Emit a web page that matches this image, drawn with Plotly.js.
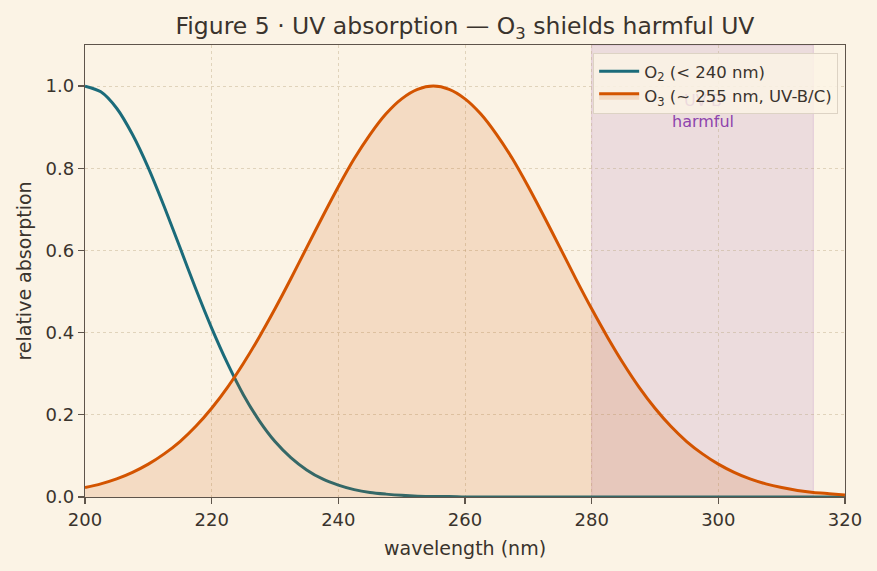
<!DOCTYPE html>
<html>
<head>
<meta charset="utf-8">
<script src="https://cdn.plot.ly/plotly-3.0.1.min.js"></script>
<style>
  html, body { margin: 0; padding: 0; background: #fbf3e5; }
  #chart { width: 877px; height: 571px; }
</style>
</head>
<body>
<div id="chart"></div>
<script>
// Wavelength grid (nm), 2.5 nm steps
const wavelength = [200, 202.5, 205, 207.5, 210, 212.5, 215, 217.5, 220, 222.5, 225, 227.5,
                    230, 232.5, 235, 237.5, 240, 242.5, 245, 247.5, 250, 252.5, 255, 257.5,
                    260, 262.5, 265, 267.5, 270, 272.5, 275, 277.5, 280, 282.5, 285, 287.5,
                    290, 292.5, 295, 297.5, 300, 302.5, 305, 307.5, 310, 312.5, 315, 317.5, 320];

// Relative absorption of O2 (strong below 240 nm)
const o2Absorption = [1.000, 0.986, 0.946, 0.882, 0.801, 0.707, 0.607, 0.506, 0.411, 0.325,
                      0.249, 0.186, 0.135, 0.096, 0.066, 0.044, 0.029, 0.018, 0.011, 0.007,
                      0.004, 0.002, 0.001, 0.001, 0.000, 0.000, 0.000, 0.000, 0.000, 0.000,
                      0.000, 0.000, 0.000, 0.000, 0.000, 0.000, 0.000, 0.000, 0.000, 0.000,
                      0.000, 0.000, 0.000, 0.000, 0.000, 0.000, 0.000, 0.000, 0.000];

// Relative absorption of O3 (Hartley band, peak near 255 nm)
const o3Absorption = [0.023, 0.032, 0.044, 0.060, 0.080, 0.105, 0.135, 0.172, 0.216, 0.267,
                      0.325, 0.389, 0.458, 0.531, 0.607, 0.682, 0.755, 0.823, 0.882, 0.932,
                      0.969, 0.992, 1.000, 0.992, 0.969, 0.932, 0.882, 0.823, 0.755, 0.682,
                      0.607, 0.531, 0.458, 0.389, 0.325, 0.267, 0.216, 0.172, 0.135, 0.105,
                      0.080, 0.060, 0.044, 0.032, 0.023, 0.016, 0.011, 0.008, 0.005];

// Harmful UV band (nm)
const harmfulBand = [280, 315];

const textColor = '#3a332d';

const traces = [
  {
    x: wavelength, y: o2Absorption, type: 'scatter', mode: 'lines',
    name: 'O<sub>2</sub> (&lt; 240 nm)',
    line: { color: '#1b6b7a', width: 3, shape: 'spline', smoothing: 0.8 }
  },
  {
    x: wavelength, y: o3Absorption, type: 'scatter', mode: 'lines',
    name: 'O<sub>3</sub> (~ 255 nm, UV-B/C)',
    fill: 'tozeroy', fillcolor: 'rgba(211,84,0,0.15)',
    line: { color: '#d35400', width: 3, shape: 'spline', smoothing: 0.8 }
  }
];

const axisCommon = {
  showline: true, mirror: true, linecolor: '#5e544b', linewidth: 1.3,
  ticks: 'outside', ticklen: 6, tickcolor: '#5e544b', tickwidth: 1.3,
  showgrid: true, gridcolor: 'rgba(190,170,135,0.55)', griddash: 'dot', gridwidth: 0.8,
  zeroline: false,
  tickfont: { size: 18, color: textColor }
};

const layout = {
  width: 877, height: 571,
  paper_bgcolor: '#fbf3e5', plot_bgcolor: '#fbf3e5',
  font: { family: 'DejaVu Sans, sans-serif', color: textColor },
  margin: { l: 85, r: 32, t: 45, b: 74 },
  title: {
    text: 'Figure 5 · UV absorption — O<sub>3</sub> shields harmful UV',
    font: { size: 23.5, color: textColor },
    x: 0.5, xref: 'paper', xanchor: 'center', y: 0.955, yanchor: 'middle'
  },
  xaxis: Object.assign({}, axisCommon, {
    range: [200, 320], dtick: 20, tick0: 200,
    title: { text: 'wavelength (nm)', font: { size: 19, color: textColor }, standoff: 12 }
  }),
  yaxis: Object.assign({}, axisCommon, {
    range: [0, 1.1], dtick: 0.2, tick0: 0, tickformat: '.1f',
    title: { text: 'relative absorption', font: { size: 19, color: textColor }, standoff: 8 }
  }),
  shapes: [{
    type: 'rect', xref: 'x', yref: 'paper', layer: 'below',
    x0: harmfulBand[0], x1: harmfulBand[1], y0: 0, y1: 1,
    fillcolor: 'rgba(142,68,173,0.13)',
    line: { color: 'rgba(142,68,173,0.18)', width: 1 }
  }],
  annotations: [{
    x: (harmfulBand[0] + harmfulBand[1]) / 2, y: 0.94, xref: 'x', yref: 'y',
    text: 'UV-B<br>harmful', showarrow: false,
    font: { size: 16, color: '#8e44ad' }, align: 'center'
  }],
  legend: {
    x: 0.991, y: 0.982, xanchor: 'right', yanchor: 'top',
    bgcolor: 'rgba(251,243,229,0.85)', bordercolor: '#ddd3c4', borderwidth: 1,
    font: { size: 16.5, color: textColor }, tracegroupgap: 0, itemwidth: 40
  },
  showlegend: true
};

Plotly.newPlot('chart', traces, layout, { displayModeBar: false, staticPlot: true }).then(function () {
  // keep the legend box above the band label
  const legend = document.querySelector('#chart .legend');
  if (legend && legend.parentNode) legend.parentNode.appendChild(legend);
});
</script>
</body>
</html>
